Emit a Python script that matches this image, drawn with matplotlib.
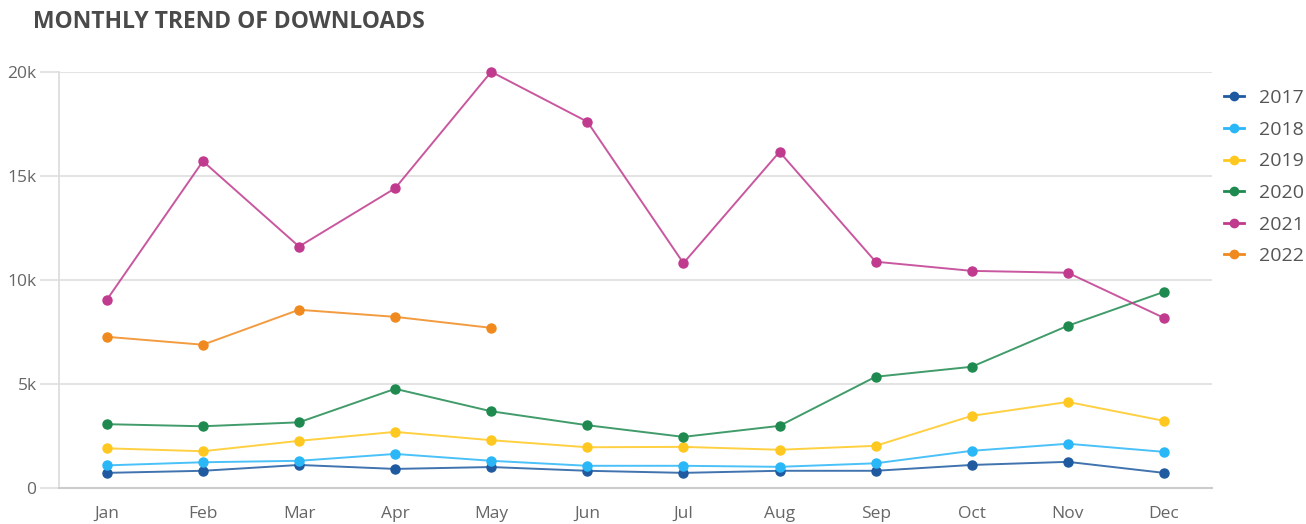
import matplotlib
matplotlib.use("Agg")
import matplotlib.pyplot as plt

months = ["Jan", "Feb", "Mar", "Apr", "May", "Jun", "Jul", "Aug", "Sep", "Oct", "Nov", "Dec"]
years = ["2017", "2018", "2019", "2020", "2021", "2022"]

d2017 = [720, 820, 1100, 910, 1000, 820, 720, 820, 820, 1100, 1250, 720]
d2018 = [1080, 1230, 1300, 1630, 1300, 1060, 1060, 1010, 1180, 1780, 2120, 1730]
d2019 = [1900, 1760, 2260, 2690, 2290, 1950, 1970, 1830, 2020, 3460, 4130, 3220]
d2020 = [3060, 2960, 3150, 4760, 3680, 3010, 2450, 2980, 5340, 5820, 7790, 9420]
d2021 = [9040, 15700, 11600, 14400, 20000, 17600, 10800, 16150, 10870, 10430, 10340, 8170]
d2022 = [7260, 6880, 8560, 8220, 7690]

series = [d2017, d2018, d2019, d2020, d2021, d2022]
colors = ["#1f5aa0", "#2ab7f7", "#ffc820", "#1f8a50", "#c03a8e", "#f08a1e"]

plt.rcParams['font.family'] = ['Open Sans', 'DejaVu Sans']

fig = plt.figure(figsize=(13.06, 5.24), dpi=100)
ax = fig.add_axes([0.045, 0.069, 0.883, 0.794])

for vals, col, lab in zip(series, colors, years):
    ax.plot(range(len(vals)), vals, color=col, lw=1.4, alpha=0.85, zorder=3)
    ax.plot(range(len(vals)), vals, color=col, lw=0, marker="o", ms=6.5,
            clip_on=False, zorder=4)
    ax.plot([], [], color=col, lw=2, marker="o", ms=6, label=lab)

ax.set_xlim(-0.5, 11.5)
ax.set_ylim(0, 20000)
ax.set_xticks(range(12))
ax.set_xticklabels(months)
ax.set_yticks([0, 5000, 10000, 15000, 20000])
ax.set_yticklabels(["0", "5k", "10k", "15k", "20k"])
ax.grid(axis="y", color="#e0e0e0", lw=1.3)
ax.set_axisbelow(True)
for s in ["top", "right"]:
    ax.spines[s].set_visible(False)
ax.spines["left"].set_color("#dddddd")
ax.spines["left"].set_linewidth(1.3)
ax.spines["bottom"].set_color("#cccccc")
ax.spines["bottom"].set_linewidth(1.5)
ax.tick_params(axis="y", length=14, color="#e0e0e0", width=1.3, labelsize=12.5,
               labelcolor="#666666", pad=2)
ax.tick_params(axis="x", length=0, labelsize=12.5, labelcolor="#666666", pad=13)

leg = ax.legend(loc="upper left", bbox_to_anchor=(1.004, 0.977), frameon=False,
                fontsize=14, labelcolor="#555555", handlelength=1.0,
                handletextpad=0.8, labelspacing=0.7, borderaxespad=0)

fig.text(0.025, 0.958, "MONTHLY TREND OF DOWNLOADS", fontsize=16.5, fontweight="bold",
         color="#4a4a4a", va="center", ha="left")

fig.savefig("out.png", dpi=100)
